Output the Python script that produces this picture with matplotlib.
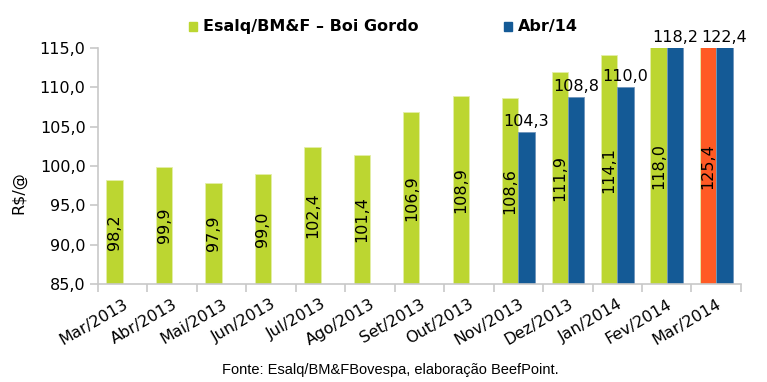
import matplotlib
matplotlib.use("Agg")
import matplotlib.pyplot as plt
import numpy as np

categories = ["Mar/2013", "Abr/2013", "Mai/2013", "Jun/2013", "Jul/2013", "Ago/2013",
              "Set/2013", "Out/2013", "Nov/2013", "Dez/2013", "Jan/2014", "Fev/2014", "Mar/2014"]
esalq = [98.2, 99.9, 97.9, 99.0, 102.4, 101.4, 106.9, 108.9, 108.6, 111.9, 114.1, 118.0, 125.4]
abr14_months = ["Nov/2013", "Dez/2013", "Jan/2014", "Fev/2014", "Mar/2014"]
abr14 = [104.3, 108.8, 110.0, 118.2, 122.4]
yticks = [85.0, 90.0, 95.0, 100.0, 105.0, 110.0, 115.0]

GREEN = "#BCD631"
BLUE = "#145A96"
ORANGE = "#FF5A24"
AXC = "#C8C8C8"

def fmt(v):
    return f"{v:.1f}".replace(".", ",")

fig = plt.figure(figsize=(7.67, 3.82), dpi=100)
ax = fig.add_axes([0.1278, 0.2565, 0.966 - 0.1278, 0.8743 - 0.2565])
ymin, ymax = 85, 115
ax.set_ylim(ymin, ymax)
x = np.arange(len(categories))
w = 0.33
ax.set_xlim(-0.5, len(categories) - 0.5)

gcolors = [GREEN] * (len(categories) - 1) + [ORANGE]
ax.bar(x - w / 2, [v - ymin for v in esalq], width=w, bottom=ymin, color=gcolors,
       edgecolor="#E4EEA8", linewidth=0.6, zorder=2)
for xi, v in zip(x, esalq):
    ax.text(xi - w / 2, (ymin + min(v, ymax)) / 2, fmt(v), rotation=90, ha="center",
            va="center", fontsize=11.5, color="black", zorder=4)

bx = np.array([categories.index(m) for m in abr14_months])
ax.bar(bx + w / 2, [v - ymin for v in abr14], width=w, bottom=ymin, color=BLUE,
       edgecolor="#6F95BB", linewidth=0.6, zorder=2)
for xi, v in zip(bx, abr14):
    top = min(v, ymax)
    ax.text(xi + w / 2, top + 0.4, fmt(v), ha="center", va="bottom",
            fontsize=11.5, color="black", zorder=5, clip_on=False)

for s in ["top", "right"]:
    ax.spines[s].set_visible(False)
for s in ["left", "bottom"]:
    ax.spines[s].set_color(AXC)
    ax.spines[s].set_linewidth(1.2)

ax.set_yticks(yticks)
ax.set_yticklabels([fmt(t) for t in yticks], fontsize=11.5)
ax.tick_params(axis="y", length=6, color=AXC, width=1.2, pad=3)

ax.set_xticks(x)
ax.set_xticklabels(categories, rotation=30, ha="right", rotation_mode="anchor", fontsize=11.5)
ax.tick_params(axis="x", which="major", length=0, pad=9)
ax.set_xticks(np.arange(-0.5, len(categories), 1.0), minor=True)
ax.tick_params(axis="x", which="minor", length=6, color=AXC, width=1.2)

fig.text(0.025, 1 - 193 / 382, "R$/@", rotation=90, ha="center", va="center", fontsize=11.5)

# legend
from matplotlib.patches import Rectangle
fig.patches.append(Rectangle((189 / 767, 1 - 31 / 382), 8 / 767, 9 / 382, color=GREEN,
                             transform=fig.transFigure, figure=fig))
fig.text(203 / 767, 1 - 26 / 382, "Esalq/BM&F – Boi Gordo", fontsize=11.5, fontweight="bold",
         va="center", ha="left")
fig.patches.append(Rectangle((504 / 767, 1 - 31 / 382), 8 / 767, 9 / 382, color=BLUE,
                             transform=fig.transFigure, figure=fig))
fig.text(518 / 767, 1 - 26 / 382, "Abr/14", fontsize=11.5, fontweight="bold",
         va="center", ha="left")

fig.text(390 / 767, 1 - 370 / 382, "Fonte: Esalq/BM&FBovespa, elaboração BeefPoint.",
         fontsize=10.5, family="Liberation Sans", ha="center", va="center")

fig.savefig("out.png", dpi=100)
